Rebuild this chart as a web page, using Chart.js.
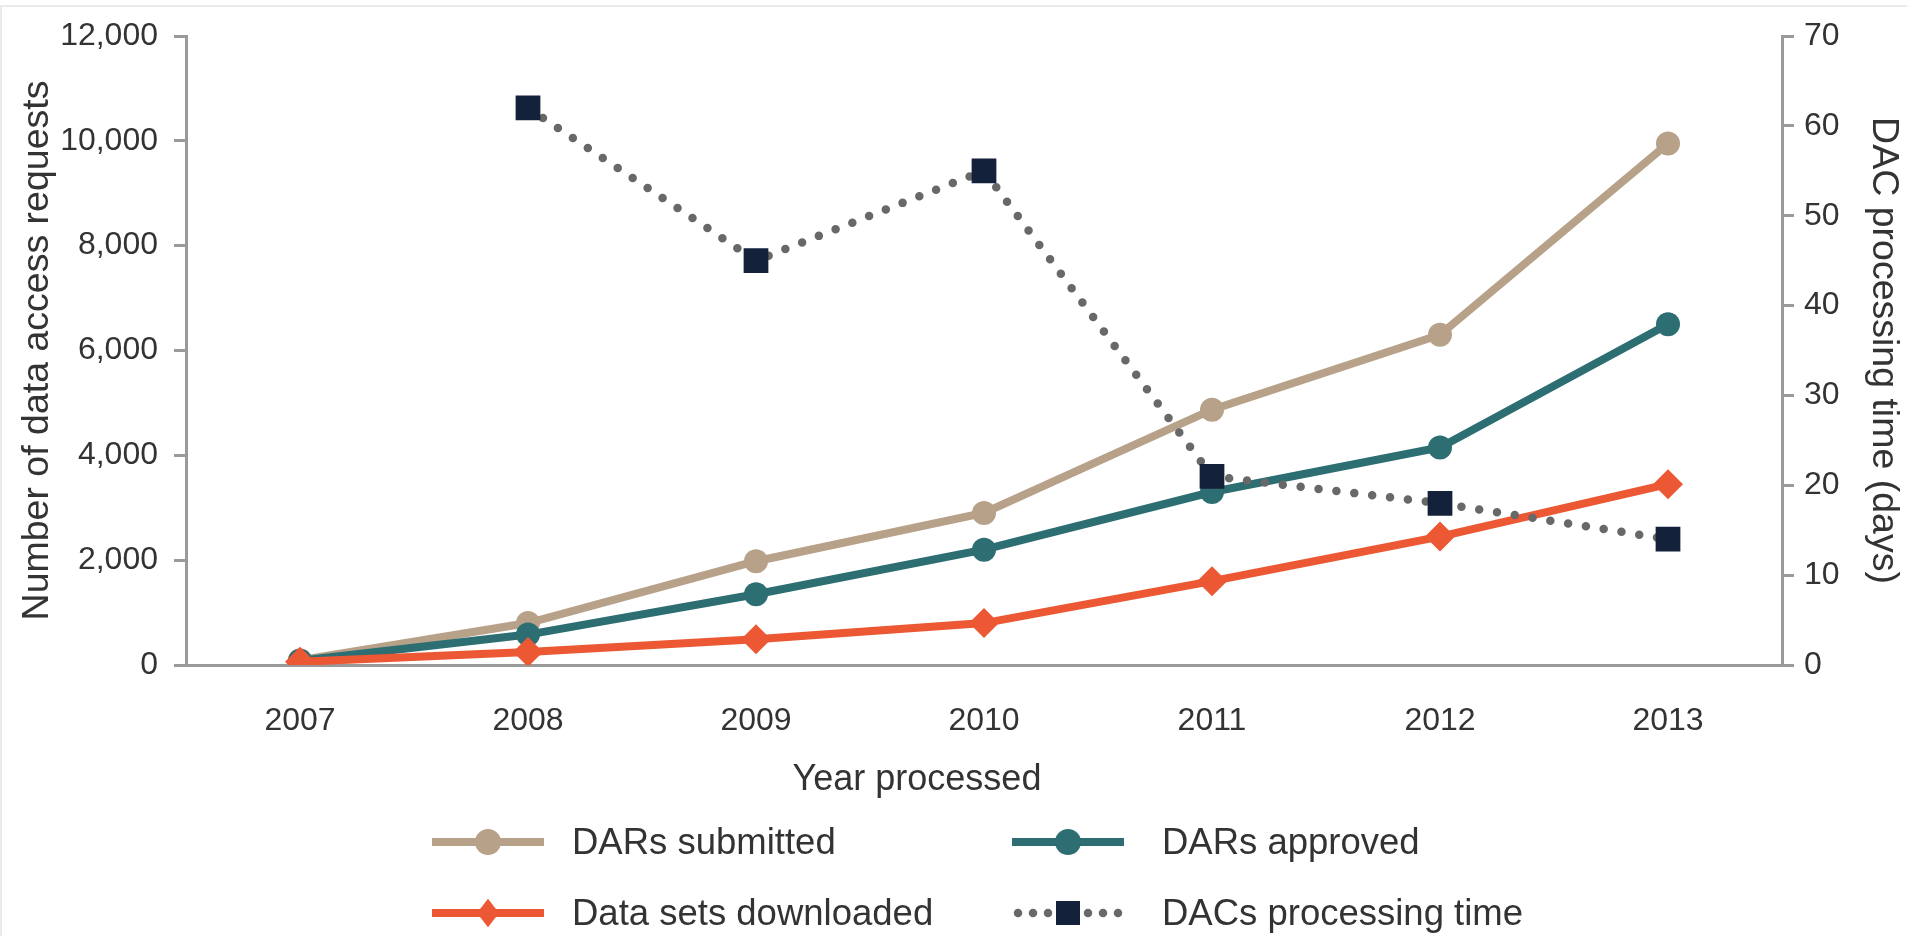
<!DOCTYPE html>
<html lang="en">
<head>
  <meta charset="UTF-8">
  <title>Data access requests and DAC processing time</title>
  <script src="https://cdn.jsdelivr.net/npm/chart.js@4.4.0/dist/chart.umd.min.js"></script>
  <style>
    html, body {
      margin: 0;
      padding: 0;
      background: #fff;
    }
    .frame {
      position: relative;
      width: 1907px;
      height: 936px;
      overflow: hidden;
      font-family: "Liberation Sans", Arial, sans-serif;
    }
    /* thin light rule along the top and left edge */
    .frame::before {
      content: '';
      position: absolute;
      left: 0;
      top: 5px;
      right: 0;
      bottom: 0;
      border-top: 2px solid #ebebeb;
      border-left: 2px solid #ebebeb;
      pointer-events: none;
    }
    #chart {
      position: absolute;
      left: 0;
      top: 0;
    }
    .legend-glyph,
    .legend-text,
    .axis-title {
      position: absolute;
      transform: translateY(-50%);
    }
    .legend-text,
    .axis-title {
      font-size: 36px;
      color: #333;
      white-space: nowrap;
      line-height: 42px;
    }
    .legend-text {
      font-size: 36.5px;
    }
    .axis-title {
      transform: translate(-50%, -50%);
    }
  </style>
</head>
<body>

<div class="frame">
  <canvas id="chart" width="1907" height="936"></canvas>
  <div class="axis-title" style="left: 917px; top: 778px;">Year processed</div>
  <div id="legend"></div>
</div>

<script>
  // Years on the x axis
  const years = ['2007', '2008', '2009', '2010', '2011', '2012', '2013'];

  // Left axis: number of data access requests
  const darsSubmitted = [90, 800, 1980, 2900, 4870, 6300, 9950];
  const darsApproved = [80, 580, 1350, 2200, 3300, 4150, 6500];
  const dataSetsDownloaded = [60, 250, 490, 800, 1600, 2450, 3450];

  // Right axis: DAC processing time in days (no figure for 2007)
  const dacProcessingDays = [null, 62, 45, 55, 21, 18, 14];

  // Axis ticks
  const requestTicks = { min: 0, max: 12000, step: 2000 };
  const dayTicks = { min: 0, max: 70, step: 10 };

  const tan = '#b7a189';
  const teal = '#2d6e72';
  const orange = '#eb5833';
  const navy = '#14213b';
  const dotGray = '#686868';
  const axisGray = '#9a9a9a';
  const textGray = '#333333';
  const family = "'Liberation Sans', Arial, sans-serif";

  const tickFont = { family: family, size: 32 };
  const titleFont = { family: family, size: 37.5 };

  const chart = new Chart(document.getElementById('chart'), {
    type: 'line',
    data: {
      labels: years,
      datasets: [
        {
          label: 'DARs submitted',
          data: darsSubmitted,
          yAxisID: 'y',
          borderColor: tan,
          backgroundColor: tan,
          borderWidth: 8,
          pointStyle: 'circle',
          pointRadius: 12,
          pointBorderWidth: 0,
          order: 3
        },
        {
          label: 'DARs approved',
          data: darsApproved,
          yAxisID: 'y',
          borderColor: teal,
          backgroundColor: teal,
          borderWidth: 8,
          pointStyle: 'circle',
          pointRadius: 12,
          pointBorderWidth: 0,
          order: 2
        },
        {
          label: 'Data sets downloaded',
          data: dataSetsDownloaded,
          yAxisID: 'y',
          borderColor: orange,
          backgroundColor: orange,
          borderWidth: 8,
          pointStyle: 'rectRot',
          pointRadius: 15,
          pointBorderWidth: 0,
          order: 1
        },
        {
          label: 'DACs processing time',
          data: dacProcessingDays,
          yAxisID: 'y1',
          borderColor: dotGray,
          backgroundColor: navy,
          borderWidth: 8.5,
          borderDash: [0, 18],
          borderCapStyle: 'round',
          pointStyle: 'rect',
          pointRadius: 17.5,
          pointBorderWidth: 0,
          order: 0
        }
      ]
    },
    options: {
      responsive: false,
      animation: false,
      layout: {
        padding: { top: 36, left: 0, right: 0, bottom: 0 }
      },
      plugins: {
        legend: { display: false },
        tooltip: { enabled: false }
      },
      scales: {
        x: {
          offset: true,
          grid: { display: false, drawTicks: false },
          border: { color: axisGray, width: 3 },
          ticks: { font: tickFont, color: textGray, padding: 37 },
          afterFit: scale => { scale.height = 271; }
        },
        y: {
          position: 'left',
          min: requestTicks.min,
          max: requestTicks.max,
          ticks: {
            stepSize: requestTicks.step,
            font: tickFont,
            color: textGray,
            padding: 16,
            callback: v => v.toLocaleString('en-US')
          },
          grid: { drawOnChartArea: false, color: axisGray, lineWidth: 3, tickLength: 12 },
          border: { color: axisGray, width: 3 },
          title: {
            display: true,
            text: 'Number of data access requests',
            font: titleFont,
            color: textGray,
            padding: { top: 15, bottom: 0 }
          },
          afterFit: scale => { scale.width = 186; }
        },
        y1: {
          position: 'right',
          min: dayTicks.min,
          max: dayTicks.max,
          ticks: {
            stepSize: dayTicks.step,
            font: tickFont,
            color: textGray,
            padding: 10
          },
          grid: { drawOnChartArea: false, color: axisGray, lineWidth: 3, tickLength: 12 },
          border: { color: axisGray, width: 3 },
          title: {
            display: true,
            text: 'DAC processing time (days)',
            font: titleFont,
            color: textGray,
            padding: { top: 1, bottom: 0 }
          },
          afterFit: scale => { scale.width = 125; }
        }
      }
    }
  });

  // Legend in two columns, built from the datasets
  const glyphLefts = [432, 1012];
  const textLefts = [572, 1162];
  const legendRows = [842, 913];

  function drawMarker(g, style, x, y, r, color) {
    g.fillStyle = color;
    g.beginPath();
    if (style === 'circle') {
      g.arc(x, y, r, 0, Math.PI * 2);
    } else if (style === 'rectRot') {
      g.moveTo(x - r * 0.85, y);
      g.lineTo(x, y - r * 1.1);
      g.lineTo(x + r * 0.85, y);
      g.lineTo(x, y + r * 1.1);
      g.closePath();
    } else {
      const s = r * Math.SQRT1_2;
      g.rect(x - s, y - s, 2 * s, 2 * s);
    }
    g.fill();
  }

  function buildLegend() {
    const holder = document.getElementById('legend');
    chart.data.datasets.forEach((ds, i) => {
      const col = i % 2;
      const top = legendRows[Math.floor(i / 2)];

      const cv = document.createElement('canvas');
      cv.width = 112;
      cv.height = 38;
      cv.className = 'legend-glyph';
      cv.style.left = glyphLefts[col] + 'px';
      cv.style.top = top + 'px';
      const g = cv.getContext('2d');
      const cy = cv.height / 2;
      const cx = cv.width / 2;

      if (ds.borderDash) {
        // three dots either side of the marker
        g.fillStyle = ds.borderColor;
        for (let k = 1; k <= 3; k++) {
          [cx - 5 - k * 15, cx + 5 + k * 15].forEach(x => {
            g.beginPath();
            g.arc(x, cy, ds.borderWidth / 2, 0, Math.PI * 2);
            g.fill();
          });
        }
      } else {
        g.strokeStyle = ds.borderColor;
        g.lineWidth = ds.borderWidth;
        g.beginPath();
        g.moveTo(0, cy);
        g.lineTo(cv.width, cy);
        g.stroke();
      }
      drawMarker(g, ds.pointStyle, cx, cy, ds.pointStyle === 'rect' ? 17 : 13, ds.backgroundColor);
      holder.appendChild(cv);

      const txt = document.createElement('div');
      txt.className = 'legend-text';
      txt.style.left = textLefts[col] + 'px';
      txt.style.top = top + 'px';
      txt.textContent = ds.label;
      holder.appendChild(txt);
    });
  }

  buildLegend();
</script>
</body>
</html>
